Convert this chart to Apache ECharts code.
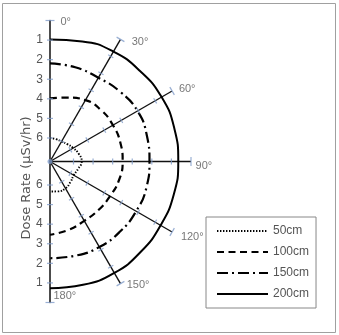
<!DOCTYPE html>
<html><head><meta charset="utf-8">
<script src="https://cdn.jsdelivr.net/npm/echarts@6/dist/echarts.min.js"></script>
<style>html,body{margin:0;padding:0;background:#fff}#c{width:339px;height:335px}</style>
</head><body><div id="c"></div>
<script>
// ---- data ----
const angles = [0, 15, 30, 45, 60, 75, 90, 105, 120, 135, 150, 165, 180];
const dose50  = [6.00, 6.02, 6.02, 5.95, 5.83, 5.68, 5.58, 5.72, 5.80, 5.72, 5.62, 5.62, 5.67];
const dose100 = [3.97, 3.82, 3.58, 3.50, 3.49, 3.48, 3.49, 3.55, 3.66, 3.70, 3.70, 3.58, 3.46];
const dose150 = [2.19, 2.22, 2.26, 2.15, 2.04, 2.08, 2.12, 2.10, 2.12, 2.14, 2.16, 2.22, 2.26];
const dose200 = [0.97, 0.85, 0.72, 0.68, 0.62, 0.63, 0.65, 0.66, 0.68, 0.66, 0.63, 0.68, 0.73];
const seriesNames = ['50cm', '100cm', '150cm', '200cm'];
const spokeAngles = [30, 60, 90, 120, 150];
const angleLabels = [0, 30, 60, 90, 120, 150, 180];
const radialTicks = [1, 2, 3, 4, 5, 6];
const axisTitle = 'Dose Rate (μSv/hr)';
const rMin = 0, rMax = 7.2;

// ---- styles ----
const tickColor = '#7f9bc8';
const textColor = '#555';
const font = 'Liberation Sans';
const lineStyles = [
  { type: [1.4, 1.6], width: 1.9 },
  { type: [7, 4.5], width: 2.2 },
  { type: [11, 4, 2, 4], width: 2.2 },
  { type: 'solid', width: 2 }
];
const labelOffsets = { 0: [2, 1], 30: [3, 3], 60: [0, -2], 90: [0, 4], 120: [2, 5], 150: [-2, 1], 180: [-5, -7] };

const doseSets = [dose50, dose100, dose150, dose200];
const series = [];
doseSets.forEach((d, i) => {
  series.push({
    name: seriesNames[i], type: 'line', coordinateSystem: 'polar', polarIndex: 0,
    data: angles.map((a, j) => [d[j], a]),
    smooth: true, symbol: 'none', clip: false,
    lineStyle: Object.assign({ color: '#000' }, lineStyles[i]),
    itemStyle: { color: '#000' }, z: 3
  });
});
spokeAngles.forEach(a => {
  series.push({
    type: 'line', coordinateSystem: 'polar', polarIndex: 0, symbol: 'none', silent: true,
    data: [[rMax, a], [rMin, a]], lineStyle: { color: '#111', width: 1.4 }, z: 2
  });
});
const tickData = [];
[0, 180].concat(spokeAngles).forEach(a => radialTicks.forEach(v => tickData.push([v, a])));
series.push({
  type: 'scatter', coordinateSystem: 'polar', polarIndex: 0, silent: true,
  data: tickData, symbol: 'rect', symbolSize: [1.2, 6],
  symbolRotate: (val) => 90 - val[1],
  itemStyle: { color: tickColor }, z: 4
});
series.push({
  type: 'scatter', coordinateSystem: 'polar', polarIndex: 0, silent: true,
  data: angleLabels.map(a => ({
    value: [rMin, a],
    label: { show: true, position: 'right', distance: 4, offset: labelOffsets[a],
      formatter: a + '°', color: textColor, fontSize: 11, fontFamily: font }
  })),
  symbol: 'rect', symbolSize: [1.2, 9], symbolRotate: (val) => 90 - val[1],
  itemStyle: { color: tickColor }, z: 4
});
series.push({
  type: 'scatter', coordinateSystem: 'polar', polarIndex: 0, silent: true,
  data: [[rMax, 0]], symbol: 'circle', symbolSize: 5, itemStyle: { color: tickColor }, z: 5
});

const radiusAxisBase = (idx, margin) => ({
  polarIndex: idx, type: 'value', min: rMin, max: rMax, interval: 1, inverse: true,
  axisLine: { lineStyle: { color: '#111', width: 1.5 } },
  axisTick: { show: false }, splitLine: { show: false },
  axisLabel: { color: textColor, fontSize: 12, margin: margin, fontFamily: font,
    formatter: v => (radialTicks.indexOf(v) >= 0 ? String(v) : '') }
});
const angleAxisBase = (idx, start) => ({
  polarIndex: idx, type: 'value', min: 0, max: 360, startAngle: start, clockwise: true,
  axisLine: { show: false }, axisTick: { show: false }, axisLabel: { show: false }, splitLine: { show: false }
});

const chart = echarts.init(document.getElementById('c'), null, { renderer: 'canvas' });
chart.setOption({
  animation: false,
  polar: [{ center: [50, 161.5], radius: [0, 141] }, { center: [50, 161.5], radius: [0, 141] }],
  angleAxis: [angleAxisBase(0, 90), angleAxisBase(1, 270)],
  radiusAxis: [radiusAxisBase(0, 7), radiusAxisBase(1, -14)],
  legend: {
    data: seriesNames, orient: 'vertical', left: 206, top: 217,
    padding: [8, 7, 8, 10], itemWidth: 51, itemHeight: 14, itemGap: 9,
    borderColor: '#888', borderWidth: 1,
    itemStyle: { opacity: 0 },
    textStyle: { color: textColor, fontSize: 12, fontFamily: font }
  },
  graphic: [
    { type: 'rect', shape: { x: 2.5, y: 3.5, width: 333, height: 329 },
      style: { fill: 'none', stroke: '#a0a0a0', lineWidth: 1 }, silent: true },
    { type: 'text', x: 27, y: 178, rotation: Math.PI / 2,
      style: { text: axisTitle, fill: textColor, fontSize: 13, fontFamily: 'DejaVu Sans',
        align: 'center', verticalAlign: 'middle' }, silent: true }
  ],
  series: series
});
</script></body></html>
